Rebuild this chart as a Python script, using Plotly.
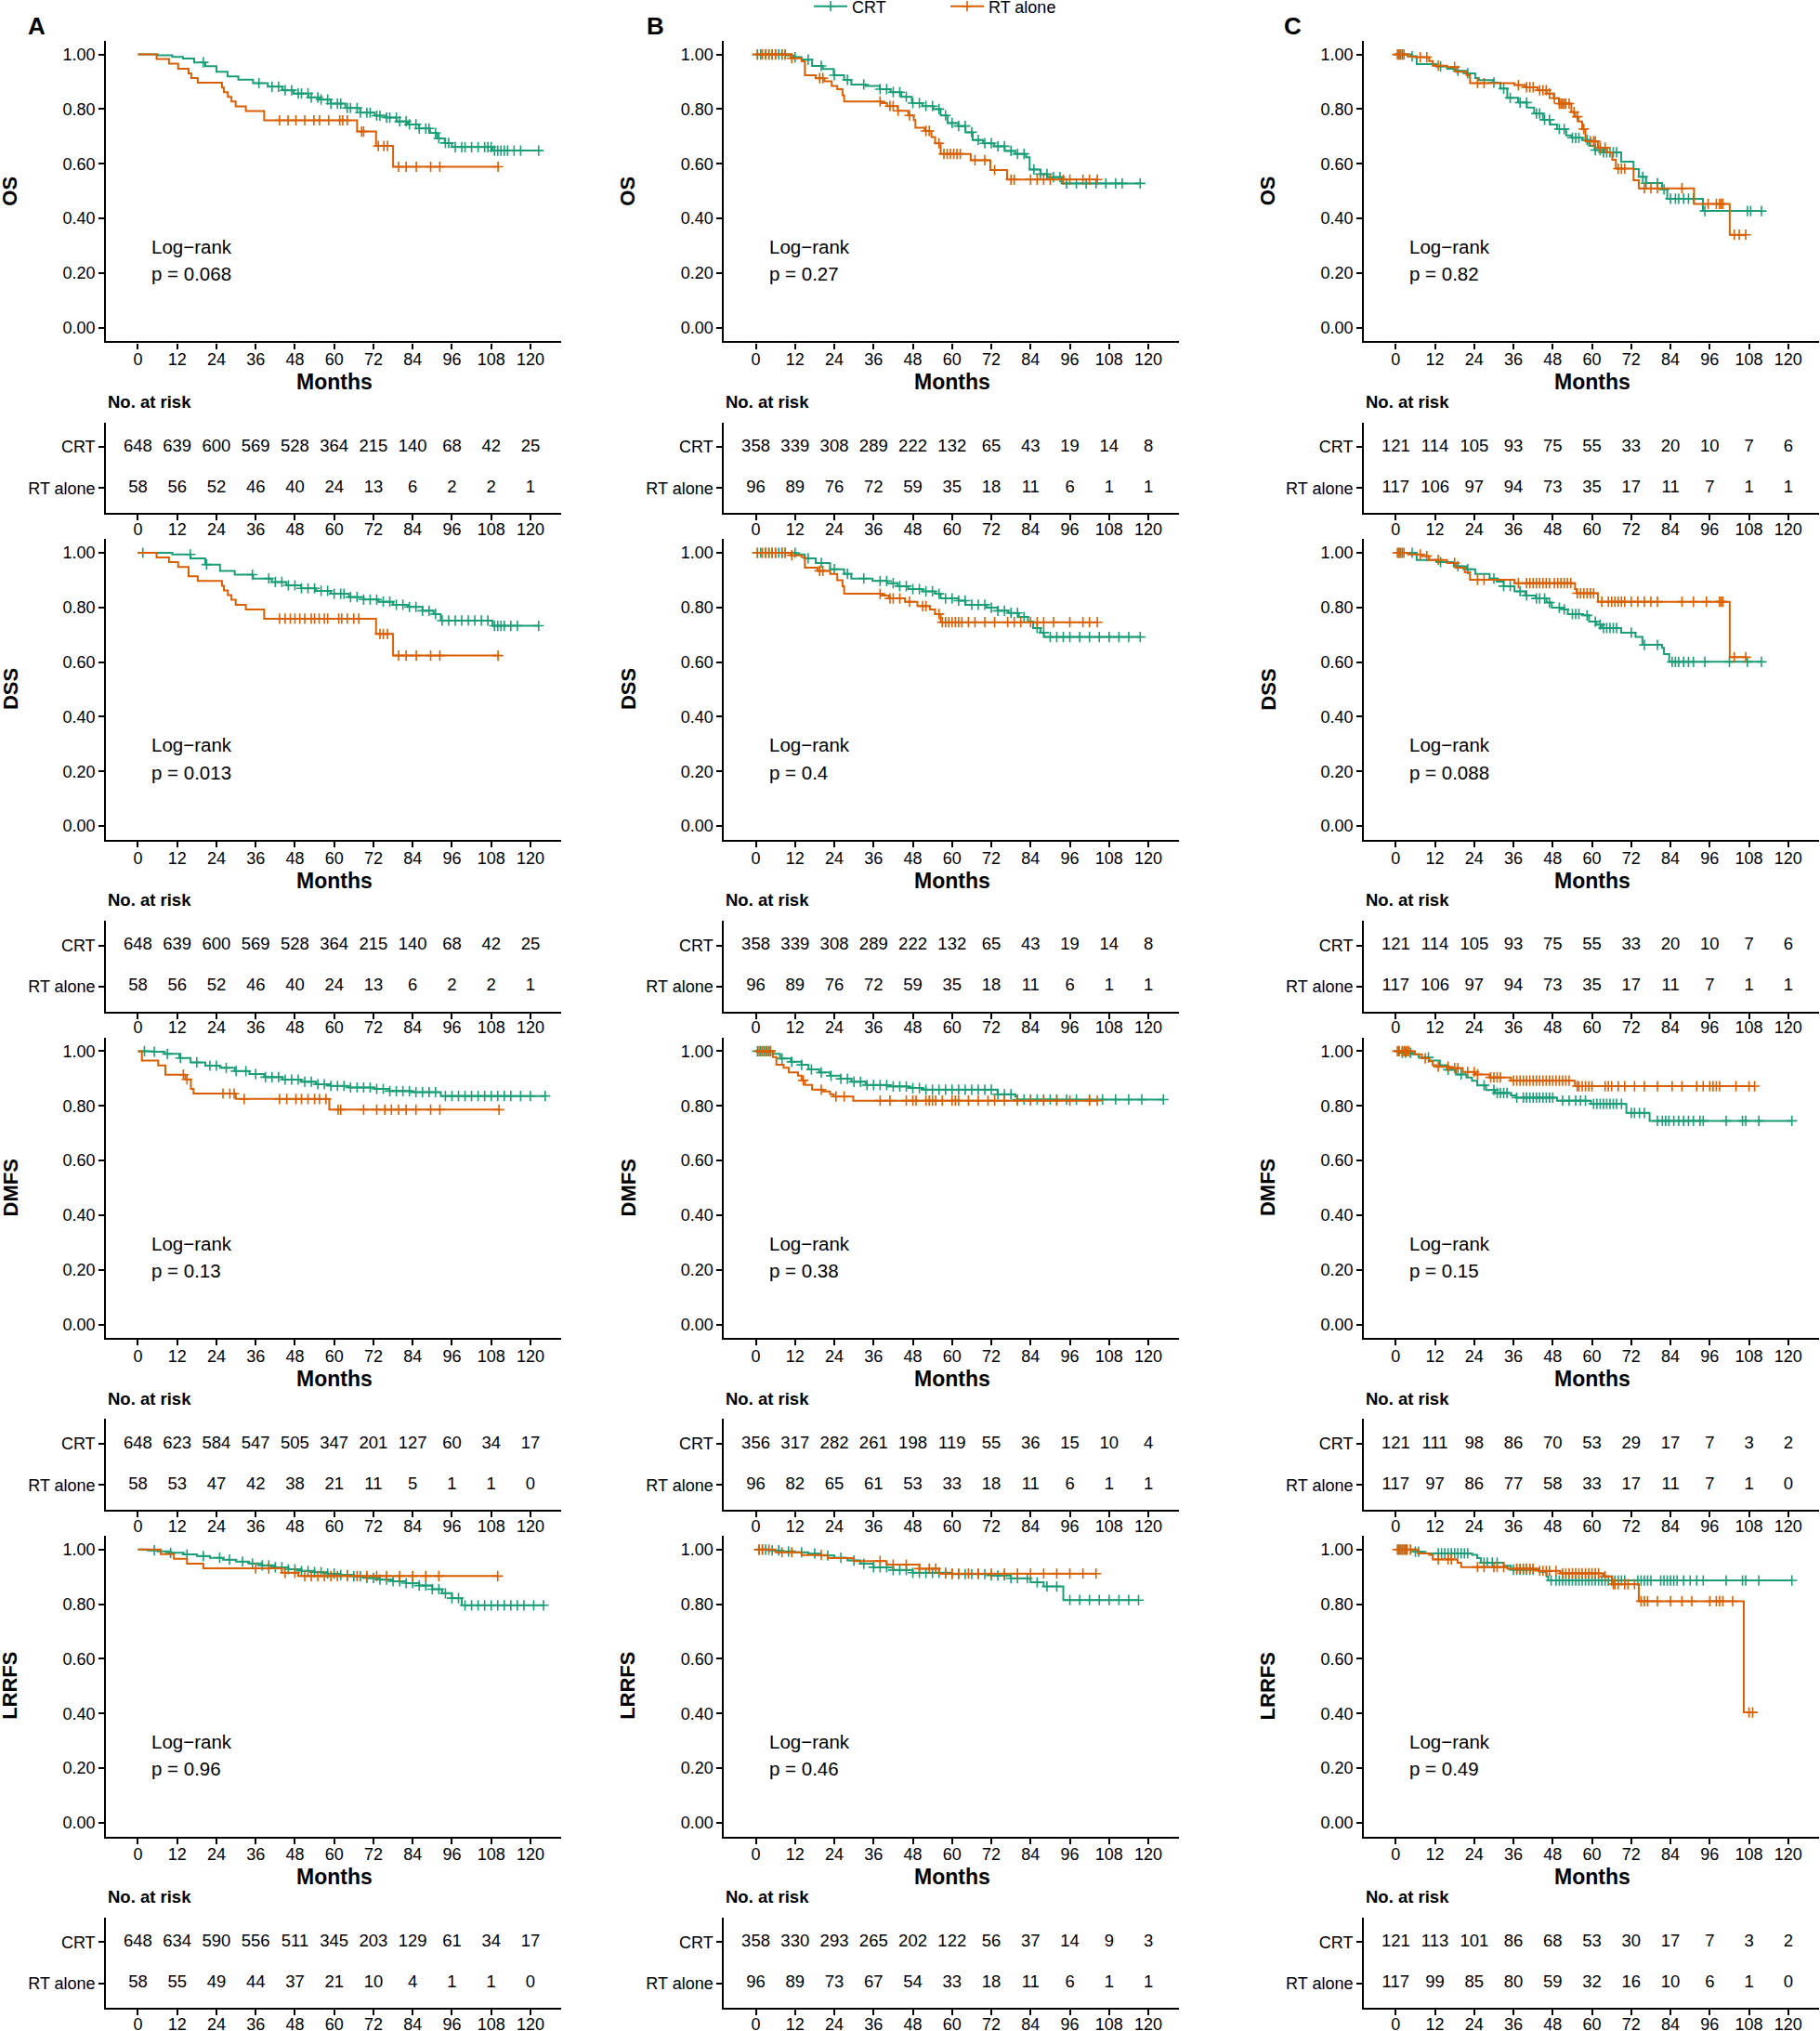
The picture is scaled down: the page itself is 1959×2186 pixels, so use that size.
import plotly.graph_objects as go

W, H = 1959, 2186
GREEN = "#1B9E77"
ORANGE = "#D95F02"
FONT = "Liberation Sans, Arial, sans-serif"

# ---------------- categories / labels ----------------
cohorts = ["A", "B", "C"]
endpoints = ["OS", "DSS", "DMFS", "LRRFS"]
groups = ["CRT", "RT alone"]
month_ticks = [0, 12, 24, 36, 48, 60, 72, 84, 96, 108, 120]
y_ticks = [0, 0.2, 0.4, 0.6, 0.8, 1.0]
y_tick_labels = ["0.00", "0.20", "0.40", "0.60", "0.80", "1.00"]

p_A = ["0.068", "0.013", "0.13", "0.96"]
p_B = ["0.27", "0.4", "0.38", "0.46"]
p_C = ["0.82", "0.088", "0.15", "0.49"]

# ---------------- numbers at risk ----------------
risk_A_OS_CRT = [648, 639, 600, 569, 528, 364, 215, 140, 68, 42, 25]
risk_A_OS_RT = [58, 56, 52, 46, 40, 24, 13, 6, 2, 2, 1]
risk_A_DSS_CRT = [648, 639, 600, 569, 528, 364, 215, 140, 68, 42, 25]
risk_A_DSS_RT = [58, 56, 52, 46, 40, 24, 13, 6, 2, 2, 1]
risk_A_DMFS_CRT = [648, 623, 584, 547, 505, 347, 201, 127, 60, 34, 17]
risk_A_DMFS_RT = [58, 53, 47, 42, 38, 21, 11, 5, 1, 1, 0]
risk_A_LRRFS_CRT = [648, 634, 590, 556, 511, 345, 203, 129, 61, 34, 17]
risk_A_LRRFS_RT = [58, 55, 49, 44, 37, 21, 10, 4, 1, 1, 0]

risk_B_OS_CRT = [358, 339, 308, 289, 222, 132, 65, 43, 19, 14, 8]
risk_B_OS_RT = [96, 89, 76, 72, 59, 35, 18, 11, 6, 1, 1]
risk_B_DSS_CRT = [358, 339, 308, 289, 222, 132, 65, 43, 19, 14, 8]
risk_B_DSS_RT = [96, 89, 76, 72, 59, 35, 18, 11, 6, 1, 1]
risk_B_DMFS_CRT = [356, 317, 282, 261, 198, 119, 55, 36, 15, 10, 4]
risk_B_DMFS_RT = [96, 82, 65, 61, 53, 33, 18, 11, 6, 1, 1]
risk_B_LRRFS_CRT = [358, 330, 293, 265, 202, 122, 56, 37, 14, 9, 3]
risk_B_LRRFS_RT = [96, 89, 73, 67, 54, 33, 18, 11, 6, 1, 1]

risk_C_OS_CRT = [121, 114, 105, 93, 75, 55, 33, 20, 10, 7, 6]
risk_C_OS_RT = [117, 106, 97, 94, 73, 35, 17, 11, 7, 1, 1]
risk_C_DSS_CRT = [121, 114, 105, 93, 75, 55, 33, 20, 10, 7, 6]
risk_C_DSS_RT = [117, 106, 97, 94, 73, 35, 17, 11, 7, 1, 1]
risk_C_DMFS_CRT = [121, 111, 98, 86, 70, 53, 29, 17, 7, 3, 2]
risk_C_DMFS_RT = [117, 97, 86, 77, 58, 33, 17, 11, 7, 1, 0]
risk_C_LRRFS_CRT = [121, 113, 101, 86, 68, 53, 30, 17, 7, 3, 2]
risk_C_LRRFS_RT = [117, 99, 85, 80, 59, 32, 16, 10, 6, 1, 0]

# ---------------- KM curves: event times (t), survival after step (s), censor times (c) ----------------
# Cohort A
A_OS_CRT_t = [6, 10.5, 13.8, 17.2, 20.6, 24, 27.4, 30.7, 35.2, 39.7, 44.2, 47.6, 52.1, 55.5, 58.9, 63.4, 67.9, 72.4, 75.8, 79.1, 82.5, 85.9, 89.3, 91.5, 93.8, 96, 108.4]
A_OS_CRT_s = [0.997, 0.991, 0.985, 0.971, 0.957, 0.937, 0.92, 0.908, 0.895, 0.882, 0.869, 0.857, 0.843, 0.835, 0.82, 0.804, 0.787, 0.776, 0.769, 0.755, 0.744, 0.729, 0.713, 0.693, 0.676, 0.661, 0.648]
A_OS_CRT_c = [20, 37, 41, 43, 45, 47, 49, 50, 52, 53, 55, 56, 58, 59, 61, 62, 64, 65, 67, 68, 70, 71, 73, 74, 76, 77, 79, 80, 82, 83, 85, 86, 88, 89, 91, 92, 94, 95, 97, 99, 100, 102, 104, 106, 107, 108, 109, 110, 111, 112, 113, 115, 117, 122.5]
A_OS_RT_t = [5.7, 9.5, 12.3, 15.5, 16.3, 18.3, 25.7, 26.3, 27.5, 28.6, 29.9, 33.0, 38.6, 67.0, 72.8, 78.0]
A_OS_RT_s = [0.983, 0.966, 0.948, 0.931, 0.914, 0.897, 0.879, 0.862, 0.845, 0.828, 0.81, 0.793, 0.759, 0.718, 0.665, 0.589]
A_OS_RT_c = [43.3, 45.9, 48.3, 51, 53.8, 55.5, 58.3, 61.7, 62.6, 64, 68.4, 69, 73.5, 75.2, 76.3, 79.7, 82, 85.1, 89.5, 92.3, 110.1]

A_DSS_CRT_t = [10.5, 16.1, 20.6, 25.1, 29.6, 35.2, 40.9, 45.4, 49.9, 54.4, 58.9, 64.5, 69, 73.5, 78, 82.5, 87, 90.4, 92.6, 108.4]
A_DSS_CRT_s = [0.994, 0.98, 0.957, 0.934, 0.92, 0.906, 0.893, 0.881, 0.87, 0.861, 0.85, 0.838, 0.829, 0.821, 0.81, 0.802, 0.788, 0.776, 0.752, 0.733]
A_DSS_CRT_c = [1.5, 16, 21, 35, 40, 42, 44, 46, 48, 50, 52, 54, 56, 58, 60, 62, 63, 65, 67, 69, 71, 73, 75, 77, 79, 81, 83, 85, 87, 89, 91, 93, 95, 97, 99, 101, 103, 105, 107, 109, 110, 111, 112, 114, 116, 122.5]
A_DSS_RT_t = [5.7, 9.5, 12.3, 15.5, 18.3, 25.7, 26.3, 27.5, 28.6, 29.9, 33.0, 38.6, 72.8, 78.0]
A_DSS_RT_s = [0.983, 0.966, 0.948, 0.914, 0.897, 0.879, 0.862, 0.845, 0.828, 0.81, 0.793, 0.759, 0.703, 0.624]
A_DSS_RT_c = [43.3, 45, 46.6, 48, 49.5, 51, 53, 54, 55.4, 57, 58, 61.4, 62.3, 64, 66, 67.5, 74, 75, 76.3, 79.7, 82, 85.1, 89.5, 92.3, 110.1]

A_DMFS_CRT_t = [4.5, 8.2, 12.7, 16.1, 20.6, 25.1, 29.6, 34.1, 38.6, 44.2, 49.9, 54.4, 58.9, 64.5, 72.4, 76.9, 83.6, 92.6]
A_DMFS_CRT_s = [0.998, 0.99, 0.975, 0.959, 0.947, 0.939, 0.927, 0.916, 0.905, 0.896, 0.888, 0.879, 0.873, 0.867, 0.862, 0.854, 0.85, 0.836]
A_DMFS_CRT_c = [2, 5, 9, 13, 18, 22, 24, 27, 30, 33, 36, 39, 41, 43, 45, 47, 49, 51, 53, 55, 57, 59, 61, 63, 65, 67, 69, 71, 73, 75, 77, 79, 81, 83, 85, 87, 89, 91, 94, 96, 98, 100, 102, 104, 106, 108, 110, 112, 114, 117, 120, 124.5]
A_DMFS_RT_t = [1.2, 6.2, 8.4, 14.5, 16.2, 17.0, 29.9, 58.5]
A_DMFS_RT_s = [0.966, 0.948, 0.914, 0.897, 0.862, 0.845, 0.825, 0.786]
A_DMFS_RT_c = [13.9, 15.0, 26.0, 28.1, 29.4, 32.5, 43.3, 45.5, 48.3, 50, 52, 54, 55.5, 57.5, 61.2, 62, 69, 73, 75.5, 77.5, 79.7, 82, 85, 89.5, 92.3, 110.4]

A_LRRFS_CRT_t = [3, 6, 10, 14, 18, 22, 26, 30, 34, 38, 42, 46, 50, 54, 58, 62, 66, 70, 74, 78, 82, 86, 90, 93, 96, 99]
A_LRRFS_CRT_s = [0.997, 0.993, 0.988, 0.982, 0.976, 0.97, 0.963, 0.956, 0.949, 0.942, 0.935, 0.928, 0.922, 0.917, 0.912, 0.907, 0.902, 0.896, 0.89, 0.884, 0.877, 0.868, 0.855, 0.84, 0.822, 0.796]
A_LRRFS_CRT_c = [5, 10, 15, 20, 25, 28, 32, 35, 38, 40, 42, 44, 46, 48, 50, 52, 54, 56, 58, 60, 62, 64, 66, 68, 70, 72, 74, 76, 78, 80, 82, 84, 86, 88, 90, 92, 94, 96, 98, 100, 102, 104, 106, 108, 110, 112, 114, 116, 118, 121, 124]
A_LRRFS_RT_t = [7, 11, 15, 20, 44, 49]
A_LRRFS_RT_s = [0.983, 0.966, 0.948, 0.931, 0.915, 0.903]
A_LRRFS_RT_c = [36, 40, 45, 48, 51, 53, 55, 57, 59, 61, 64, 67, 70, 73, 76, 80, 84, 88, 92, 110]

# Cohort B
B_OS_CRT_t = [9.6, 11.8, 14, 17.2, 20.5, 23.8, 27, 29.2, 33.6, 37.9, 41.2, 44.5, 47.7, 51, 54.3, 56.5, 58.6, 61.9, 64.1, 66.3, 69.5, 72.8, 76.1, 79.3, 82.6, 83.7, 87, 89.2, 93.5]
B_OS_CRT_s = [0.996, 0.99, 0.981, 0.958, 0.947, 0.924, 0.907, 0.89, 0.885, 0.873, 0.862, 0.845, 0.822, 0.811, 0.8, 0.777, 0.749, 0.738, 0.715, 0.687, 0.675, 0.664, 0.647, 0.636, 0.624, 0.579, 0.562, 0.551, 0.528]
B_OS_CRT_c = [0.5, 1.5, 3, 4, 5, 6, 7, 8, 9, 12, 16, 20, 24, 28, 33, 38, 40, 42, 44, 46, 48, 50, 52, 54, 56, 58, 60, 62, 64, 66, 68, 70, 72, 74, 76, 78, 80, 82, 85, 87, 89, 91, 93, 95, 98, 101, 104, 107, 110, 112, 117.5]
B_OS_RT_t = [10.7, 14, 15, 18.3, 21, 23.2, 24.9, 26.5, 27, 38.5, 40.1, 43.4, 46.6, 48.3, 48.8, 51.6, 53.7, 54.8, 56.5, 65.7, 71.7, 76.8]
B_OS_RT_s = [0.986, 0.975, 0.924, 0.913, 0.902, 0.885, 0.873, 0.851, 0.828, 0.822, 0.811, 0.794, 0.777, 0.76, 0.732, 0.72, 0.698, 0.675, 0.636, 0.613, 0.577, 0.542]
B_OS_RT_c = [0.5, 2, 3, 4, 5, 6, 8, 9, 11, 19.5, 20.5, 38, 41, 42, 43.5, 47, 52, 53, 56, 57.5, 58.5, 59.5, 60.5, 61.5, 62.5, 67, 70, 73, 78, 79, 84, 86, 88, 90, 94, 96, 100, 102, 104.4]

B_DSS_CRT_t = [12.3, 15, 18.3, 22.7, 27, 29.2, 35.7, 40.1, 43.4, 46.6, 51, 54.8, 56.5, 61.9, 64.1, 70.6, 73.9, 77.2, 80.4, 83.2, 84.8, 87, 88.1]
B_DSS_CRT_s = [0.994, 0.98, 0.963, 0.94, 0.923, 0.906, 0.897, 0.889, 0.878, 0.867, 0.859, 0.85, 0.833, 0.825, 0.81, 0.799, 0.788, 0.78, 0.765, 0.748, 0.725, 0.708, 0.692]
B_DSS_CRT_c = [0.5, 1.5, 3, 4, 5, 6, 7, 8, 9, 12, 16, 20, 24, 28, 33, 38, 40, 42, 44, 46, 48, 50, 52, 54, 56, 58, 60, 62, 64, 66, 68, 70, 72, 74, 76, 78, 80, 82, 86, 88, 90, 92, 94, 96, 99, 102, 105, 108, 111, 114, 117.5]
B_DSS_RT_t = [10.7, 14, 15, 18.9, 22.7, 24.9, 26.5, 27, 38.5, 40.7, 45.6, 49.4, 53.2, 54.8, 56.5]
B_DSS_RT_s = [0.991, 0.985, 0.946, 0.934, 0.923, 0.9, 0.878, 0.85, 0.844, 0.833, 0.821, 0.805, 0.793, 0.776, 0.746]
B_DSS_RT_c = [0.5, 2, 3, 4, 5, 6, 8, 9, 11, 19.5, 20.5, 38, 41, 42, 44, 47, 51, 52, 56, 57, 58, 59, 60, 61, 62, 63, 65, 67, 70, 73, 77, 79, 81, 84, 86, 88, 91, 96, 100, 102, 104.4]

B_DMFS_CRT_t = [5.2, 7.4, 10.7, 14, 16.1, 19.4, 22.7, 25.9, 29.2, 33.6, 40.1, 46.6, 51, 73.9, 79.3, 79.9]
B_DMFS_CRT_s = [0.99, 0.973, 0.961, 0.95, 0.933, 0.922, 0.91, 0.899, 0.888, 0.876, 0.871, 0.865, 0.859, 0.842, 0.834, 0.823]
B_DMFS_CRT_c = [0.5, 1.5, 2.5, 3.5, 4.5, 8, 11, 14, 17, 20, 23, 26, 28, 30, 32, 34, 36, 38, 40, 42, 44, 46, 48, 50, 52, 54, 56, 58, 60, 62, 64, 66, 68, 70, 72, 74, 76, 78, 80, 82, 84, 86, 88, 90, 92, 95, 98, 102, 106, 110, 114, 118, 124.6]
B_DMFS_RT_t = [5.2, 6.3, 8.5, 10.1, 12.9, 14, 15, 17.2, 20.5, 22.7, 23.8, 29.8]
B_DMFS_RT_s = [0.978, 0.95, 0.939, 0.922, 0.91, 0.893, 0.876, 0.859, 0.853, 0.842, 0.834, 0.819]
B_DMFS_RT_c = [1, 2, 3, 4, 4.5, 14.5, 20, 24.5, 27, 38, 41, 46, 48, 49, 52, 53, 54, 55, 57, 60, 61, 62, 65, 68, 71, 73, 76, 80, 84, 88, 92, 96, 102, 104.4]

B_LRRFS_CRT_t = [4, 8, 12, 16, 20, 24, 28, 32, 36, 42, 48, 60, 72, 78, 84, 88, 94]
B_LRRFS_CRT_s = [0.997, 0.993, 0.99, 0.985, 0.978, 0.97, 0.96, 0.948, 0.935, 0.925, 0.915, 0.91, 0.905, 0.895, 0.88, 0.865, 0.815]
B_LRRFS_CRT_c = [1, 2, 3, 5, 7, 10, 14, 18, 22, 26, 30, 33, 36, 38, 40, 42, 44, 46, 48, 50, 52, 54, 56, 58, 60, 62, 64, 66, 68, 70, 72, 74, 76, 78, 80, 83, 86, 89, 92, 96, 99, 102, 105, 108, 111, 114, 117]
B_LRRFS_RT_t = [6, 14, 22, 30, 40, 50, 56]
B_LRRFS_RT_s = [0.99, 0.98, 0.969, 0.958, 0.945, 0.93, 0.912]
B_LRRFS_RT_c = [1, 2, 4, 8, 11, 20, 38, 42, 46, 50, 53, 55, 58, 60, 62, 65, 68, 72, 76, 80, 84, 88, 92, 96, 100, 104]

# Cohort C
C_OS_CRT_t = [4.8, 6.4, 12.4, 15.7, 18.4, 21.6, 24.3, 25.4, 29.8, 32, 34.1, 37.4, 40.1, 42.3, 45, 47.2, 49.3, 52.1, 53.7, 57, 59.1, 60.8, 63.5, 68.9, 72.7, 74.3, 76.5, 81.4, 83, 93.9]
C_OS_CRT_s = [0.993, 0.965, 0.956, 0.948, 0.94, 0.931, 0.914, 0.906, 0.897, 0.875, 0.841, 0.824, 0.806, 0.784, 0.761, 0.744, 0.727, 0.704, 0.695, 0.687, 0.665, 0.65, 0.642, 0.608, 0.58, 0.552, 0.529, 0.506, 0.472, 0.427]
C_OS_CRT_c = [1, 2, 5, 13.7, 19, 22, 30, 33, 35, 38, 40, 43, 44, 45.5, 47, 50, 51.5, 54, 55, 56, 58.5, 61, 62.5, 63.5, 64.5, 65.5, 66.5, 67.5, 75.5, 76.5, 80, 82, 84, 85.5, 86.5, 88, 89.5, 91, 94.5, 107.5, 108.5, 111.8]
C_OS_RT_t = [3.7, 5.9, 10.2, 11.3, 15.7, 18.4, 21.6, 22.7, 36.3, 39.6, 43.4, 46.1, 48.3, 49.9, 53.7, 54.8, 55.9, 57, 58, 61.8, 64.6, 66.2, 67.3, 72.7, 74.3, 91.2, 102.1]
C_OS_RT_s = [0.993, 0.99, 0.976, 0.959, 0.954, 0.937, 0.925, 0.895, 0.888, 0.88, 0.869, 0.857, 0.84, 0.82, 0.789, 0.772, 0.755, 0.727, 0.682, 0.659, 0.642, 0.614, 0.582, 0.54, 0.51, 0.453, 0.34]
C_OS_RT_c = [0.5, 1, 1.5, 2.5, 7.5, 9.5, 13, 18, 25, 27, 37.5, 40, 41, 42, 44, 45, 46, 47, 48.5, 50, 50.5, 51, 51.5, 52, 53, 54.5, 55.5, 57.5, 59.5, 60.5, 61, 62.5, 64, 68, 69, 70, 76, 78, 80, 87.5, 95.5, 98, 99, 99.5, 100, 103.5, 105, 107]

C_DSS_CRT_t = [6.4, 12.4, 17.8, 21.6, 24.3, 28.7, 30.9, 33, 36.3, 39.6, 42.8, 46.1, 47.7, 51.5, 52.6, 57, 59.1, 61.3, 62.9, 68.9, 73.3, 75.4, 81.4, 82, 83.6]
C_DSS_CRT_s = [0.974, 0.966, 0.951, 0.94, 0.923, 0.906, 0.895, 0.878, 0.859, 0.844, 0.833, 0.818, 0.799, 0.793, 0.776, 0.771, 0.748, 0.737, 0.725, 0.708, 0.692, 0.663, 0.652, 0.629, 0.601]
C_DSS_CRT_c = [1, 2, 5, 13.7, 19, 22, 30, 33, 35, 38, 40, 43, 44, 45.5, 47, 50, 51.5, 54, 55, 56, 58.5, 61, 62.5, 63.5, 64.5, 65.5, 66.5, 67.5, 72, 76, 80, 84.5, 85.5, 86.5, 88, 89.5, 91, 94.5, 102, 107.5, 111.8]
C_DSS_RT_t = [3.7, 8, 10.2, 15.7, 18.4, 21.1, 22.7, 36.3, 54.8, 55.3, 61.8, 102.1]
C_DSS_RT_s = [0.994, 0.988, 0.974, 0.963, 0.946, 0.929, 0.901, 0.889, 0.867, 0.852, 0.821, 0.618]
C_DSS_RT_c = [0.5, 1, 1.5, 2.5, 7.5, 9.5, 13, 18, 25, 27, 37.5, 40, 41, 42, 43, 44, 45, 46, 47, 48.5, 49.5, 50.5, 51.5, 52.5, 53.5, 55.5, 56.5, 57.5, 58.5, 59.5, 60.5, 63, 65, 66, 67, 68, 69, 70, 72, 74, 76, 78, 80, 87.5, 91, 95, 99, 99.5, 100, 103.5, 107]

C_DMFS_CRT_t = [1.5, 4.8, 7, 10.2, 13.5, 15.7, 18.4, 21.6, 23.3, 24.9, 27.6, 30.3, 35.2, 36.7, 49.3, 59.7, 70.5, 77.6]
C_DMFS_CRT_s = [0.994, 0.989, 0.977, 0.966, 0.949, 0.932, 0.915, 0.904, 0.892, 0.875, 0.858, 0.847, 0.838, 0.83, 0.819, 0.807, 0.774, 0.745]
C_DMFS_CRT_c = [1, 2, 3, 4.5, 10, 16, 20, 27, 30, 31, 32, 33, 34, 37, 39, 40, 41, 42, 43, 44, 45, 46, 47, 48, 51, 53, 55, 56.5, 58, 60.5, 61.5, 62.5, 63.5, 64.5, 65.5, 66.5, 67.5, 69, 72, 73, 74.5, 76, 80, 81.5, 82.5, 83.5, 85, 86.5, 88, 89.5, 91, 93, 94, 101, 106, 107, 111, 121.1]
C_DMFS_RT_t = [5.9, 8, 10.2, 11.3, 12.4, 16.2, 20.5, 24.3, 28.7, 35.2, 54.8]
C_DMFS_RT_s = [0.989, 0.974, 0.963, 0.949, 0.943, 0.938, 0.924, 0.915, 0.904, 0.892, 0.872]
C_DMFS_RT_c = [0.5, 1, 2, 2.5, 3, 3.5, 4, 9, 13, 16, 18, 19, 22, 24, 25, 29, 30, 31, 32, 36, 37, 38, 39, 40, 41, 42, 43, 44, 45, 46, 47, 48, 49, 50, 51, 52, 53, 55.5, 56, 57, 58, 59, 60, 64, 65, 66, 68, 70, 73, 76, 80, 84.5, 87.5, 92, 94, 96, 97, 98, 99, 104, 108, 109.7]

C_LRRFS_CRT_t = [5.9, 9.1, 23.3, 24.9, 26, 33, 35.2, 43.9, 46.1, 46.6]
C_LRRFS_CRT_s = [0.992, 0.986, 0.981, 0.969, 0.952, 0.941, 0.926, 0.919, 0.902, 0.887]
C_LRRFS_CRT_c = [1, 2, 3, 6, 7, 13, 14, 15, 16, 17, 18, 19, 20, 21, 22, 27, 28, 29.5, 31, 36, 37, 38, 39, 40, 41, 42, 47.5, 49, 50, 51, 52, 53, 54, 55, 56, 57, 58, 59, 60, 61, 62, 63, 64, 65, 66, 67, 68, 69, 70, 74, 75, 76, 77, 78, 81, 82, 83, 84, 85, 86, 88, 90, 92, 94, 101, 106, 107, 111, 121.1]
C_LRRFS_RT_t = [6.8, 10.2, 11.3, 18.9, 20, 34.1, 43.9, 50.3, 63.5, 66.2, 74.3, 106.4]
C_LRRFS_RT_s = [0.986, 0.981, 0.964, 0.952, 0.936, 0.93, 0.922, 0.913, 0.902, 0.873, 0.811, 0.404]
C_LRRFS_RT_c = [0.5, 1, 1.5, 2, 2.5, 3, 3.5, 4.5, 13, 16, 17, 25, 27, 30, 31, 33, 37, 38, 39, 40, 41, 42, 44, 45, 46, 47, 49, 51, 52, 53, 54, 55, 56, 57, 58, 59, 60, 61, 62, 64, 66.5, 67, 68, 70, 71, 73, 75, 76, 77, 80, 84, 87.5, 90.5, 96, 98, 99, 100, 103, 108, 109.1]

# ---------------- layout geometry (pixels) ----------------
COL_LEFT = [114.3, 779.4, 1468.2]
COL_W = 489.4
ROW_STEP = 536.4
PLOT_TOP, PLOT_BOT = 43.9, 367.4
TAB_TOP, TAB_BOT = 454.5, 552.1
MONTHS_Y = 411.3
NORISK_Y = 432.2
YTITLE_X = [11, 676, 1364.6]
LETTER_X = [39, 705.5, 1391.5]
X_RANGE = [-9.7, 129.3]


def px_x(v):
    return v / W


def px_y(v):
    return 1 - v / H


def step_value(t, s, time):
    val = 1.0
    for ti, si in zip(t, s):
        if ti <= time:
            val = si
    return val


G = globals()
p_lists = {"A": p_A, "B": p_B, "C": p_C}
colors = {"CRT": GREEN, "RT": ORANGE}

fig = go.Figure()
layout = dict(
    width=W, height=H, margin=dict(l=0, r=0, t=0, b=0, autoexpand=False),
    paper_bgcolor="white", plot_bgcolor="white",
    font=dict(family=FONT, size=18, color="black"),
    showlegend=True,
)
annotations = []

axis_common = dict(showgrid=False, zeroline=False, showline=True, linecolor="black",
                   linewidth=2.2, ticks="outside", ticklen=6, tickwidth=2.2, tickcolor="black",
                   tickfont=dict(family=FONT, size=18, color="black"))

for ci, coh in enumerate(cohorts):
    for ri, ep in enumerate(endpoints):
        n = ri * 3 + ci
        pa = 2 * n + 1   # plot axis index
        ta = 2 * n + 2   # table axis index
        off = ri * ROW_STEP
        xd = [px_x(COL_LEFT[ci]), px_x(COL_LEFT[ci] + COL_W)]
        layout[f"xaxis{pa}"] = dict(axis_common, domain=xd, range=X_RANGE, tickvals=month_ticks,
                                    anchor=f"y{pa}", ticklabelstandoff=-4)
        layout[f"yaxis{pa}"] = dict(axis_common, domain=[px_y(PLOT_BOT + off), px_y(PLOT_TOP + off)],
                                    range=[-0.05, 1.05], tickvals=y_ticks, ticktext=y_tick_labels,
                                    anchor=f"x{pa}")
        layout[f"xaxis{ta}"] = dict(axis_common, domain=xd, range=X_RANGE, tickvals=month_ticks,
                                    anchor=f"y{ta}", ticklabelstandoff=-6)
        layout[f"yaxis{ta}"] = dict(axis_common, domain=[px_y(TAB_BOT + off), px_y(TAB_TOP + off)],
                                    range=[0.4, 2.6], tickvals=[1, 2], ticktext=["RT alone", "CRT"],
                                    anchor=f"x{ta}")

        for g, key, ypos in [("CRT", "CRT", 2), ("RT alone", "RT", 1)]:
            t = G[f"{coh}_{ep}_{key}_t"]
            s = G[f"{coh}_{ep}_{key}_s"]
            c = G[f"{coh}_{ep}_{key}_c"]
            end = max(c + t)
            fig.add_trace(go.Scatter(
                x=[0] + t + [end], y=[1.0] + s + [s[-1]], mode="lines",
                line=dict(color=colors[key], width=2, shape="hv"),
                xaxis=f"x{pa}", yaxis=f"y{pa}", showlegend=False, hoverinfo="skip"))
            fig.add_trace(go.Scatter(
                x=c, y=[step_value(t, s, ct) for ct in c], mode="markers",
                marker=dict(symbol="cross-thin", size=8, line=dict(color=colors[key], width=1.6)),
                xaxis=f"x{pa}", yaxis=f"y{pa}", showlegend=False, hoverinfo="skip"))
            risk = G[f"risk_{coh}_{ep}_{key}"]
            fig.add_trace(go.Scatter(
                x=month_ticks, y=[ypos] * len(month_ticks), mode="text",
                text=[str(v) for v in risk], textposition="middle center",
                textfont=dict(family=FONT, size=18.5, color="black"),
                xaxis=f"x{ta}", yaxis=f"y{ta}", showlegend=False, hoverinfo="skip"))

        annotations.append(dict(x=3.6, y=0.297, xref=f"x{pa}", yref=f"y{pa}", text="Log\u2212rank",
                                showarrow=False, xanchor="left", yanchor="middle",
                                font=dict(family=FONT, size=20.5, color="black")))
        annotations.append(dict(x=3.6, y=0.197, xref=f"x{pa}", yref=f"y{pa}",
                                text="p = " + p_lists[coh][ri],
                                showarrow=False, xanchor="left", yanchor="middle",
                                font=dict(family=FONT, size=20.5, color="black")))
        annotations.append(dict(x=60, y=px_y(MONTHS_Y + off), xref=f"x{pa}", yref="paper",
                                text="<b>Months</b>", showarrow=False, xanchor="center", yanchor="middle",
                                font=dict(family=FONT, size=23, color="black")))
        annotations.append(dict(x=px_x(COL_LEFT[ci]), y=px_y(NORISK_Y + off), xref="paper", yref="paper",
                                text="<b>No. at risk</b>", showarrow=False, xanchor="left", yanchor="middle",
                                font=dict(family=FONT, size=18.5, color="black")))
        annotations.append(dict(x=px_x(YTITLE_X[ci]), y=0.5, xref="paper", yref=f"y{pa}",
                                text=f"<b>{ep}</b>", showarrow=False, textangle=-90,
                                xanchor="center", yanchor="middle",
                                font=dict(family=FONT, size=22, color="black")))
    annotations.append(dict(x=px_x(LETTER_X[ci]), y=px_y(28), xref="paper", yref="paper",
                            text=f"<b>{coh}</b>", showarrow=False, xanchor="center", yanchor="middle",
                            font=dict(family=FONT, size=26, color="black")))

# legend entries
for g, key in [("CRT", "CRT"), ("RT alone", "RT")]:
    fig.add_trace(go.Scatter(
        x=[None], y=[None], mode="lines+markers", name=g,
        line=dict(color=colors[key], width=2),
        marker=dict(symbol="cross-thin", size=8, line=dict(color=colors[key], width=1.6)),
        xaxis="x1", yaxis="y1", showlegend=True))

layout["legend"] = dict(orientation="h", x=px_x(871), xanchor="left", y=px_y(7), yanchor="middle",
                        bgcolor="rgba(0,0,0,0)", font=dict(family=FONT, size=18, color="black"),
                        itemwidth=36, entrywidth=96, entrywidthmode="pixels")
layout["annotations"] = annotations
fig.update_layout(**layout)
fig.write_html("out.html", config={"displayModeBar": False},
               post_script="document.body.style.margin='0';document.body.style.overflow='hidden';")
